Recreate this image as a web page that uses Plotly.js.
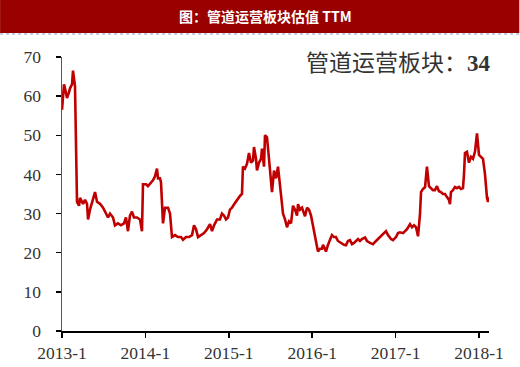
<!DOCTYPE html>
<html><head><meta charset="utf-8">
<script src="https://cdn.plot.ly/plotly-3.0.1.min.js"></script>
<style>html,body{margin:0;padding:0;background:#fff;}#chart{width:520px;height:367px;}</style>
</head><body><div id="chart"></div>
<script>
// decimal-year time positions (2013.0 = 2013-1)
const years = [2013.000,2013.024,2013.036,2013.060,2013.084,2013.096,2013.120,2013.132,2013.156,2013.180,2013.204,2013.216,2013.252,2013.276,2013.300,2013.312,2013.336,2013.360,2013.396,2013.420,2013.456,2013.492,2013.528,2013.552,2013.576,2013.612,2013.635,2013.671,2013.707,2013.743,2013.767,2013.791,2013.815,2013.839,2013.863,2013.899,2013.935,2013.959,2013.971,2014.007,2014.031,2014.067,2014.091,2014.115,2014.139,2014.151,2014.175,2014.187,2014.211,2014.235,2014.271,2014.295,2014.319,2014.355,2014.391,2014.427,2014.451,2014.487,2014.523,2014.559,2014.583,2014.607,2014.631,2014.667,2014.703,2014.739,2014.775,2014.799,2014.823,2014.859,2014.894,2014.918,2014.942,2014.966,2014.990,2015.014,2015.038,2015.062,2015.086,2015.110,2015.134,2015.158,2015.170,2015.194,2015.218,2015.242,2015.266,2015.290,2015.302,2015.326,2015.338,2015.362,2015.386,2015.398,2015.422,2015.434,2015.458,2015.482,2015.494,2015.518,2015.542,2015.566,2015.590,2015.614,2015.638,2015.650,2015.674,2015.698,2015.722,2015.746,2015.770,2015.794,2015.818,2015.830,2015.854,2015.878,2015.902,2015.914,2015.938,2015.962,2015.986,2015.998,2016.022,2016.034,2016.058,2016.070,2016.094,2016.118,2016.129,2016.153,2016.165,2016.189,2016.213,2016.237,2016.261,2016.285,2016.309,2016.333,2016.357,2016.381,2016.405,2016.429,2016.453,2016.477,2016.501,2016.525,2016.549,2016.573,2016.597,2016.633,2016.657,2016.693,2016.729,2016.765,2016.789,2016.825,2016.849,2016.885,2016.909,2016.945,2016.969,2017.005,2017.029,2017.053,2017.089,2017.113,2017.137,2017.173,2017.197,2017.221,2017.245,2017.269,2017.293,2017.305,2017.329,2017.353,2017.376,2017.400,2017.424,2017.448,2017.472,2017.496,2017.520,2017.544,2017.568,2017.592,2017.616,2017.640,2017.652,2017.664,2017.688,2017.712,2017.736,2017.760,2017.784,2017.808,2017.820,2017.832,2017.856,2017.880,2017.904,2017.928,2017.952,2017.976,2018.000,2018.024,2018.048,2018.072,2018.084,2018.096,2018.108,2018.132];
// 管道运营板块 PE (TTM)
const peTTM = [56.5,63,62,59.5,61,62,63,66.5,62.5,33,32,34,32.5,33.5,32.5,28.5,31,33,35.5,33,32.5,31.5,30,29,30,29,27,27.5,27,27.5,29,25.5,29.5,30.5,29,29,28.5,25.5,37.5,37.5,37,38,38.5,39.5,41.5,39,39,38,27.5,31.5,31.5,30,24,24.5,24,24,23.3,24,24,24.5,27,26,24,24.5,25,26,27.3,25.5,27,28.5,28.5,30,29.5,28.5,29,31,31.5,32.3,33,34,34.5,35,42,41.5,42.7,45.5,43,43.5,47,44,41,43,44,46.6,42,50,49.5,44,40.5,35.5,41,39,42,37,32,30,28.5,26.5,28,27.5,32,31,29.5,32.4,31,31.5,30,29.3,31.5,31,29.5,28,26,24.2,21.5,20.3,21,21,22,21,20.3,22,23.5,24.5,24,24,23,22.6,22.2,22,21.9,23,23.2,22.2,22.5,23,23.5,23,23.5,23.9,23,22.5,22.2,23,23.5,24.2,24.7,25.5,24.5,23.5,23.2,24,25,25.2,25,25.5,26,27.3,26.5,27,26.5,24.2,30,35.5,36.3,36.7,42,37,36.5,36,36,37,35.7,35.5,35,35,34.2,33.5,32.4,35.5,36,36.8,36.5,36.8,36.3,36.5,40,45.5,45.8,43,44.5,44,45.8,50.5,45,44.5,44,40,36,34,33,34.2];
const tickYears = [2013,2014,2015,2016,2017,2018];
const tickLabels = ['2013-1','2014-1','2015-1','2016-1','2017-1','2018-1'];
const yTicks = [0,10,20,30,40,50,60,70];
const chartTitle = '图：管道运营板块估值 TTM';
const seriesLabel = '管道运营板块：';
const latestValue = '34';

const trace = {
  x: years, y: peTTM, type: 'scatter', mode: 'lines',
  line: {color: '#C00000', width: 2.6}, hoverinfo: 'skip'
};
const tickFont = {family: 'Liberation Serif, Times New Roman, serif', size: 17.5, color: '#333'};
const layout = {
  width: 520, height: 367,
  margin: {l: 62, r: 31, t: 57, b: 36, pad: 0},
  paper_bgcolor: '#fff', plot_bgcolor: '#fff',
  showlegend: false,
  xaxis: {
    range: [2013, 2018.12], tickvals: tickYears, ticktext: tickLabels,
    showgrid: false, zeroline: false, showline: true, linecolor: '#000', linewidth: 1.5,
    ticks: 'outside', ticklen: 5, tickwidth: 1.5, tickcolor: '#000',
    tickfont: tickFont
  },
  yaxis: {
    range: [0, 70], tickvals: yTicks,
    showgrid: false, zeroline: false, showline: true, linecolor: '#555', linewidth: 1.5,
    ticks: 'outside', ticklen: 5, tickwidth: 1.5, tickcolor: '#000',
    ticklabelstandoff: 11,
    tickfont: tickFont
  },
  shapes: [
    {type: 'rect', xref: 'paper', yref: 'paper', x0: -0.145, x1: 1.071, y0: 1.0876, y1: 1.2080,
     fillcolor: '#990000', line: {width: 0}, layer: 'below'},
    {type: 'line', xref: 'paper', yref: 'paper', x0: -0.145, x1: 1.071, y0: 1.0840, y1: 1.0840,
     line: {color: '#8a9ac8', width: 1, dash: 'dot'}}
  ],
  annotations: [
    {xref: 'paper', yref: 'paper', x: 0.477, y: 1.149, xanchor: 'center', yanchor: 'middle',
     text: '<b>' + chartTitle + '</b>', showarrow: false,
     font: {family: 'Noto Sans CJK SC, sans-serif', size: 14, color: '#fff'}},
    {xref: 'paper', yref: 'paper', x: 1.01, y: 0.985, xanchor: 'right', yanchor: 'middle',
     text: seriesLabel + '<b><span style="font-family:Liberation Serif">' + latestValue + '</span></b>', showarrow: false,
     font: {family: 'Noto Sans CJK SC, sans-serif', size: 23, color: '#333'}}
  ]
};
Plotly.newPlot('chart', [trace], layout, {displayModeBar: false, staticPlot: true});
</script></body></html>
